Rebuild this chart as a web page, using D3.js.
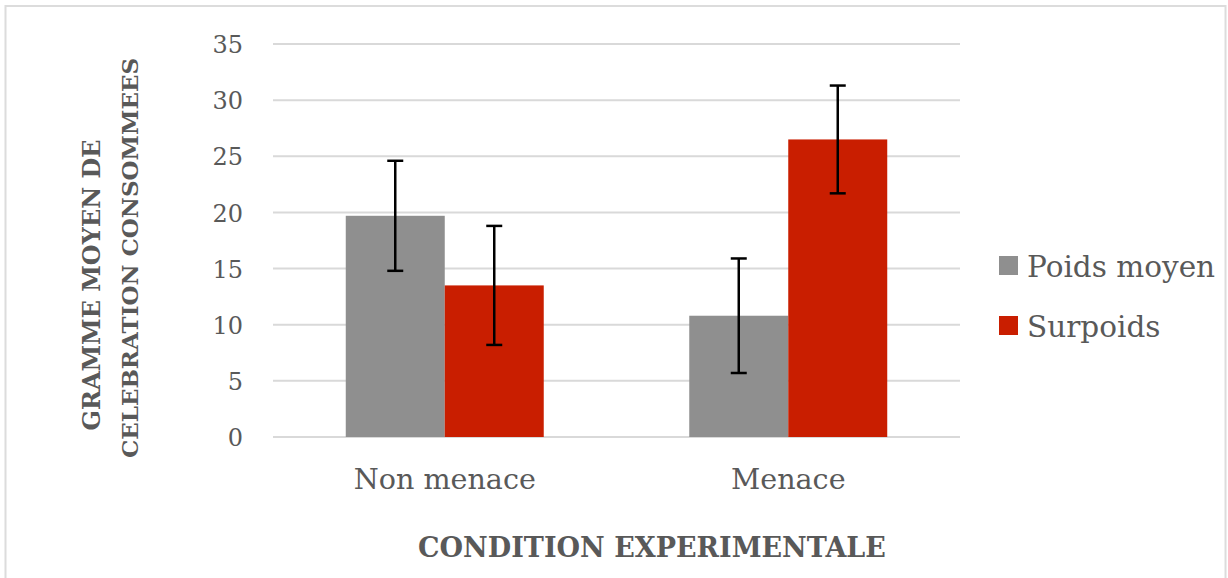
<!DOCTYPE html>
<html>
<head>
<meta charset="utf-8">
<script src="https://cdn.jsdelivr.net/npm/d3@7"></script>
<style>
  html, body { margin: 0; padding: 0; background: #ffffff; }
  svg text { font-family: "DejaVu Serif", "Liberation Serif", serif; fill: #595959; }
</style>
</head>
<body>
<div class="chart"></div>
<script>
/* Chart data */
var CATEGORIES = ["Non menace", "Menace"];
var SERIES_NAMES = ["Poids moyen", "Surpoids"];
var POIDS_MOYEN = [19.7, 10.8];
var SURPOIDS = [13.5, 26.5];
var POIDS_MOYEN_ERR = [4.9, 5.1];
var SURPOIDS_ERR = [5.3, 4.8];
var Y_TICKS = [0, 5, 10, 15, 20, 25, 30, 35];

var COLOR_TABLE = ["#8f8f8f", "#c91e00"];

var WIDTH = 1228;
var HEIGHT = 578;
var plot = { left: 273, right: 960, top: 44, bottom: 437 };

var svg = d3.select("div.chart")
            .append("svg")
            .attr("width", WIDTH)
            .attr("height", HEIGHT);

/* light frame round the whole chart */
svg.append("rect")
   .attr("x", 5.5)
   .attr("y", 6)
   .attr("width", 1220)
   .attr("height", 580)
   .attr("fill", "none")
   .attr("stroke", "#dcdcdc")
   .attr("stroke-width", 2);

var y = d3.scaleLinear().domain([0, 35]).range([plot.bottom, plot.top]);
var x0 = d3.scaleBand().domain(CATEGORIES).range([plot.left, plot.right]).paddingInner(0).paddingOuter(0);
var x1 = d3.scaleBand().domain(SERIES_NAMES).range([0, x0.bandwidth()]).paddingInner(0).paddingOuter(0.735);

/* gridlines */
svg.append("g")
   .selectAll("line")
   .data(Y_TICKS)
   .enter()
   .append("line")
   .attr("x1", plot.left)
   .attr("x2", plot.right)
   .attr("y1", function (d) { return y(d); })
   .attr("y2", function (d) { return y(d); })
   .attr("stroke", "#d9d9d9")
   .attr("stroke-width", 2);

/* y axis labels only, no domain line */
var yAxis = svg.append("g")
   .attr("transform", "translate(" + 243 + ",0)")
   .call(d3.axisLeft(y).tickValues(Y_TICKS).tickSize(0).tickPadding(0));
yAxis.select(".domain").remove();
yAxis.selectAll("text")
     .attr("font-size", 24)
     .attr("font-family", "DejaVu Serif")
     .attr("fill", "#595959")
     .attr("dy", "0.36em");

/* x axis labels */
var xAxis = svg.append("g")
   .attr("transform", "translate(0," + 469 + ")")
   .call(d3.axisBottom(x0).tickSize(0).tickPadding(0));
xAxis.select(".domain").remove();
xAxis.selectAll("text")
     .attr("font-size", 28.6)
     .attr("font-family", "DejaVu Serif")
     .attr("fill", "#595959")
     .attr("dy", "0.71em");

/* bars */
var seriesValues = [POIDS_MOYEN, SURPOIDS];
var seriesErrors = [POIDS_MOYEN_ERR, SURPOIDS_ERR];
var rows = [];
CATEGORIES.forEach(function (cat, ci) {
  SERIES_NAMES.forEach(function (s, si) {
    rows.push({ cat: cat, series: s, si: si, value: seriesValues[si][ci], err: seriesErrors[si][ci] });
  });
});

svg.append("g")
   .selectAll("rect")
   .data(rows)
   .enter()
   .append("rect")
   .attr("x", function (d) { return x0(d.cat) + x1(d.series); })
   .attr("y", function (d) { return y(d.value); })
   .attr("width", x1.bandwidth())
   .attr("height", function (d) { return y(0) - y(d.value); })
   .attr("fill", function (d) { return COLOR_TABLE[d.si]; });

/* error bars */
var errG = svg.append("g")
              .attr("stroke", "#000000")
              .attr("stroke-width", 2.5)
              .selectAll("g")
              .data(rows)
              .enter()
              .append("g");
var cx = function (d) { return x0(d.cat) + x1(d.series) + x1.bandwidth() / 2; };
errG.append("line")
    .attr("x1", cx).attr("x2", cx)
    .attr("y1", function (d) { return y(d.value + d.err); })
    .attr("y2", function (d) { return y(d.value - d.err); });
errG.append("line")
    .attr("x1", function (d) { return cx(d) - 8; })
    .attr("x2", function (d) { return cx(d) + 8; })
    .attr("y1", function (d) { return y(d.value + d.err); })
    .attr("y2", function (d) { return y(d.value + d.err); });
errG.append("line")
    .attr("x1", function (d) { return cx(d) - 8; })
    .attr("x2", function (d) { return cx(d) + 8; })
    .attr("y1", function (d) { return y(d.value - d.err); })
    .attr("y2", function (d) { return y(d.value - d.err); });

/* legend */
var legend = svg.append("g")
                .selectAll("g")
                .data(SERIES_NAMES)
                .enter()
                .append("g")
                .attr("transform", function (d, i) { return "translate(999," + (256 + i * 60) + ")"; });
legend.append("rect")
      .attr("width", 19)
      .attr("height", 19)
      .attr("fill", function (d, i) { return COLOR_TABLE[i]; });
legend.append("text")
      .attr("x", 28)
      .attr("y", 21)
      .attr("font-size", 29.5)
      .text(function (d) { return d; });

/* axis titles */
svg.append("text")
   .attr("x", 652)
   .attr("y", 557)
   .attr("text-anchor", "middle")
   .attr("font-size", 27)
   .attr("font-weight", "bold")
   .text("CONDITION EXPERIMENTALE");

svg.append("text")
   .attr("transform", "translate(100,285) rotate(-90)")
   .attr("text-anchor", "middle")
   .attr("font-size", 24)
   .attr("font-weight", "bold")
   .text("GRAMME MOYEN DE");
svg.append("text")
   .attr("transform", "translate(138,258) rotate(-90)")
   .attr("text-anchor", "middle")
   .attr("font-size", 23)
   .attr("font-weight", "bold")
   .text("CELEBRATION CONSOMMEES");
</script>
</body>
</html>
